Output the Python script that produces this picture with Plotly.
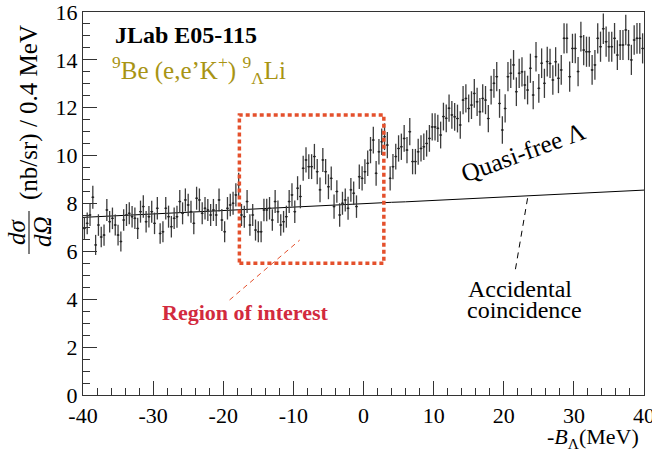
import numpy as np
import plotly.graph_objects as go

# ---- data ----
bin_width = 0.4
x_low, x_high = -40.0, 40.0

counts = [
    6.96, 7.17, 7.52, 8.26, 6.27, 7.10, 6.60, 6.68, 7.73, 7.24,
    7.38, 7.10, 6.68, 6.41, 7.31, 7.52, 7.59, 7.45, 7.38, 6.96,
    7.66, 7.87, 7.24, 7.45, 7.66, 7.17, 7.80, 6.75, 6.82, 7.80,
    7.45, 7.03, 7.38, 7.45, 8.08, 7.59, 8.15, 7.94, 7.66, 7.17,
    8.22, 8.15, 7.59, 7.80, 7.73, 7.52, 7.73, 7.52, 8.15, 7.31,
    6.82, 7.80, 7.94, 8.01, 8.36, 8.78, 7.52, 7.45, 8.08, 7.10,
    7.52, 6.89, 6.82, 6.82, 7.73, 7.73, 7.80, 7.31, 8.08, 7.66,
    7.10, 7.24, 7.45, 8.08, 8.36, 7.66, 8.64, 8.29, 9.47, 9.82,
    9.54, 9.54, 9.96, 9.33, 8.57, 9.82, 9.33, 8.70, 9.05, 7.87,
    8.50, 7.52, 8.01, 8.15, 7.80, 8.57, 8.43, 7.87, 9.12, 9.05,
    9.33, 9.68, 10.23, 10.65, 9.26, 10.16, 10.58, 10.79, 10.44, 9.05,
    9.54, 9.96, 10.30, 10.37, 10.72, 10.23, 11.00, 9.75, 9.75, 10.16,
    10.30, 10.37, 10.51, 10.72, 11.20, 11.20, 11.14, 10.86, 11.63, 11.56,
    11.98, 11.70, 11.62, 11.55, 11.28, 12.32, 12.39, 11.97, 12.11, 12.60,
    12.25, 11.83, 12.39, 12.32, 11.55, 12.74, 13.02, 13.30, 12.18, 11.07,
    11.97, 13.30, 13.44, 13.79, 12.67, 13.44, 13.50, 12.95, 12.74, 13.65,
    12.53, 14.13, 12.81, 13.86, 13.02, 13.93, 13.85, 13.16, 13.92, 13.23,
    13.58, 14.90, 14.90, 13.30, 14.48, 14.48, 13.51, 14.97, 14.41, 14.34,
    14.34, 13.58, 13.79, 14.90, 14.55, 15.30, 14.76, 14.55, 14.55, 14.90,
    14.20, 14.62, 14.62, 15.25, 14.62, 14.00, 14.83, 14.90, 14.90, 14.48,
]

errors = [
    0.44, 0.45, 0.46, 0.48, 0.42, 0.45, 0.43, 0.44, 0.46, 0.45,
    0.45, 0.44, 0.43, 0.42, 0.45, 0.46, 0.46, 0.45, 0.45, 0.44,
    0.46, 0.47, 0.45, 0.45, 0.46, 0.45, 0.47, 0.43, 0.44, 0.47,
    0.46, 0.45, 0.45, 0.46, 0.48, 0.46, 0.48, 0.47, 0.46, 0.45,
    0.48, 0.48, 0.46, 0.47, 0.46, 0.46, 0.46, 0.46, 0.48, 0.46,
    0.44, 0.47, 0.47, 0.48, 0.49, 0.50, 0.46, 0.46, 0.48, 0.45,
    0.46, 0.44, 0.44, 0.44, 0.47, 0.47, 0.47, 0.45, 0.48, 0.47,
    0.45, 0.45, 0.46, 0.48, 0.49, 0.47, 0.50, 0.49, 0.52, 0.53,
    0.52, 0.52, 0.53, 0.53, 0.52, 0.50, 0.53, 0.52, 0.50, 0.51,
    0.47, 0.49, 0.48, 0.48, 0.48, 0.50, 0.49, 0.47, 0.51, 0.51,
    0.52, 0.53, 0.55, 0.56, 0.52, 0.53, 0.55, 0.56, 0.55, 0.51,
    0.53, 0.54, 0.55, 0.55, 0.56, 0.55, 0.57, 0.53, 0.53, 0.54,
    0.55, 0.55, 0.55, 0.56, 0.57, 0.57, 0.57, 0.56, 0.58, 0.58,
    0.57, 0.58, 0.58, 0.58, 0.57, 0.59, 0.59, 0.58, 0.58, 0.60,
    0.59, 0.58, 0.59, 0.59, 0.57, 0.60, 0.60, 0.61, 0.60, 0.57,
    0.59, 0.61, 0.61, 0.62, 0.60, 0.61, 0.61, 0.60, 0.60, 0.61,
    0.59, 0.62, 0.60, 0.62, 0.61, 0.62, 0.61, 0.62, 0.61, 0.62,
    0.62, 0.63, 0.62, 0.63, 0.61, 0.62, 0.61, 0.62, 0.63, 0.63,
    0.63, 0.62, 0.62, 0.63, 0.63, 0.64, 0.63, 0.63, 0.63, 0.64,
    0.62, 0.63, 0.63, 0.64, 0.63, 0.63, 0.62, 0.64, 0.64, 0.63,
]

bg_x = [-40, -38, -36, -34, -32, -30, -28, -26, -24, -22, -20, -18, -16, -14,
        -12, -10, -8, -6, -4, -2, 0, 2, 4, 6, 8, 10, 12, 14, 16, 18, 20, 22,
        24, 26, 28, 30, 32, 34, 36, 38, 40]
bg_y = [7.42, 7.45, 7.47, 7.51, 7.53, 7.56, 7.59, 7.62, 7.64, 7.68, 7.70,
        7.73, 7.76, 7.79, 7.82, 7.84, 7.88, 7.90, 7.93, 7.96, 7.99, 8.02,
        8.05, 8.07, 8.10, 8.13, 8.16, 8.18, 8.22, 8.24, 8.27, 8.30, 8.33,
        8.36, 8.38, 8.41, 8.44, 8.47, 8.50, 8.52, 8.56]

x_tickvals = [-40, -30, -20, -10, 0, 10, 20, 30, 40]
x_ticktext = ["-40", "-30", "-20", "-10", "0", "10", "20", "30", "40"]
y_tickvals = [0, 2, 4, 6, 8, 10, 12, 14, 16]
y_ticktext = ["0", "2", "4", "6", "8", "10", "12", "14", "16"]

roi_x = [-17.7, 2.9]
roi_y = [5.5, 11.7]

# ---- figure ----
centers = x_low + bin_width / 2 + bin_width * np.arange(len(counts))

SERIF = "Liberation Serif"
fig = go.Figure()

fig.add_trace(go.Scatter(
    x=bg_x, y=bg_y, mode="lines",
    line=dict(color="black", width=1), hoverinfo="skip", showlegend=False))

fig.add_trace(go.Scatter(
    x=centers, y=counts, mode="markers",
    marker=dict(size=2, color="#222"),
    error_y=dict(type="data", array=errors, thickness=1.3, width=0, color="#3c3c3c"),
    error_x=dict(type="constant", value=bin_width / 2, thickness=1, width=0, color="#3c3c3c"),
    showlegend=False))

# region-of-interest box
fig.add_shape(type="rect", xref="x", yref="y",
              x0=roi_x[0], x1=roi_x[1], y0=roi_y[0], y1=roi_y[1],
              line=dict(color="#e4502c", width=3.5, dash="4px,3px"))
# pointer lines
fig.add_shape(type="line", xref="x", yref="y", x0=-19.1, y0=3.97, x1=-9.1, y1=6.47,
              line=dict(color="#e4502c", width=1, dash="5px,4px"))
fig.add_shape(type="line", xref="x", yref="y", x0=23.4, y0=8.22, x1=21.6, y1=5.14,
              line=dict(color="black", width=1, dash="6px,5px"))

def px2px(px):
    return (px - 83.0) / 561.0

def py2py(py):
    return (395.0 - py) / 383.0

ann = []
ann.append(dict(x=px2px(113), y=py2py(35), xref="paper", yref="paper",
                text="<b>JLab E05-115</b>", showarrow=False, xanchor="left",
                yanchor="middle", font=dict(family=SERIF, size=24, color="black")))
ann.append(dict(x=px2px(110), y=py2py(70), xref="paper", yref="paper",
                text="<sup>9</sup>Be (e,e’K<sup>+</sup>) <sup>9</sup><sub>Λ</sub>Li",
                showarrow=False, xanchor="left", yanchor="middle",
                font=dict(family=SERIF, size=25, color="#a89414")))
ann.append(dict(x=22.7, y=10.15, xref="x", yref="y", text="Quasi-free Λ",
                showarrow=False, textangle=-20, xanchor="center", yanchor="middle",
                font=dict(family=SERIF, size=25, color="black")))
ann.append(dict(x=22.3, y=(395 - 289) / 23.94, xref="x", yref="y", text="Accidental",
                showarrow=False, xanchor="center", yanchor="middle",
                font=dict(family=SERIF, size=24, color="black")))
ann.append(dict(x=23.0, y=(395 - 310) / 23.94, xref="x", yref="y", text="coincidence",
                showarrow=False, xanchor="center", yanchor="middle",
                font=dict(family=SERIF, size=24, color="black")))
ann.append(dict(x=-16.9, y=3.43, xref="x", yref="y", text="<b>Region of interest</b>",
                showarrow=False, xanchor="center", yanchor="middle",
                font=dict(family=SERIF, size=22, color="#d22a3e")))
# y-axis title as fraction
ann.append(dict(x=px2px(16), y=py2py(232), xref="paper", yref="paper",
                text="<i>dσ</i>", showarrow=False, textangle=-90,
                xanchor="center", yanchor="middle",
                font=dict(family=SERIF, size=25, color="black")))
ann.append(dict(x=px2px(42), y=py2py(232), xref="paper", yref="paper",
                text="<i>dΩ</i>", showarrow=False, textangle=-90,
                xanchor="center", yanchor="middle",
                font=dict(family=SERIF, size=25, color="black")))
ann.append(dict(x=px2px(29), y=py2py(113), xref="paper", yref="paper",
                text="(nb/sr) / 0.4 MeV", showarrow=False, textangle=-90,
                xanchor="center", yanchor="middle",
                font=dict(family=SERIF, size=25, color="black")))
# x-axis title
ann.append(dict(x=px2px(641), y=py2py(438), xref="paper", yref="paper",
                text="-<i>B</i><sub>Λ</sub>(MeV)", showarrow=False,
                xanchor="right", yanchor="middle",
                font=dict(family=SERIF, size=22, color="black")))

fig.add_shape(type="line", xref="paper", yref="paper",
              x0=px2px(29), x1=px2px(29), y0=py2py(254), y1=py2py(211),
              line=dict(color="black", width=1))

fig.update_layout(
    width=652, height=455,
    margin=dict(l=83, r=8, t=12, b=60),
    paper_bgcolor="white", plot_bgcolor="white",
    annotations=ann,
    font=dict(family=SERIF, size=22, color="black"),
    xaxis=dict(range=[x_low, x_high], tickmode="array", tickvals=x_tickvals,
               ticktext=x_ticktext, ticks="inside", ticklen=14, tickwidth=1,
               tickcolor="#333", showgrid=False, zeroline=False,
               showline=True, linecolor="#333", linewidth=1.2, mirror=True,
               automargin=False, ticklabeloverflow="allow",
               tickfont=dict(family=SERIF, size=22, color="black"),
               minor=dict(tickmode="linear", tick0=-40, dtick=2, ticks="inside",
                          ticklen=7, tickcolor="#333", showgrid=False)),
    yaxis=dict(range=[0, 16], tickmode="array", tickvals=y_tickvals,
               ticktext=y_ticktext, ticks="inside", ticklen=14, tickwidth=1,
               tickcolor="#333", showgrid=False, zeroline=False,
               showline=True, linecolor="#333", linewidth=1.2, mirror=True,
               automargin=False, ticklabeloverflow="allow",
               tickfont=dict(family=SERIF, size=22, color="black"),
               minor=dict(tickmode="linear", tick0=0, dtick=0.5, ticks="inside",
                          ticklen=7, tickcolor="#333", showgrid=False)),
)

fig.write_html("out.html", config={"displayModeBar": False},
               post_script="document.body.style.margin='0';")
